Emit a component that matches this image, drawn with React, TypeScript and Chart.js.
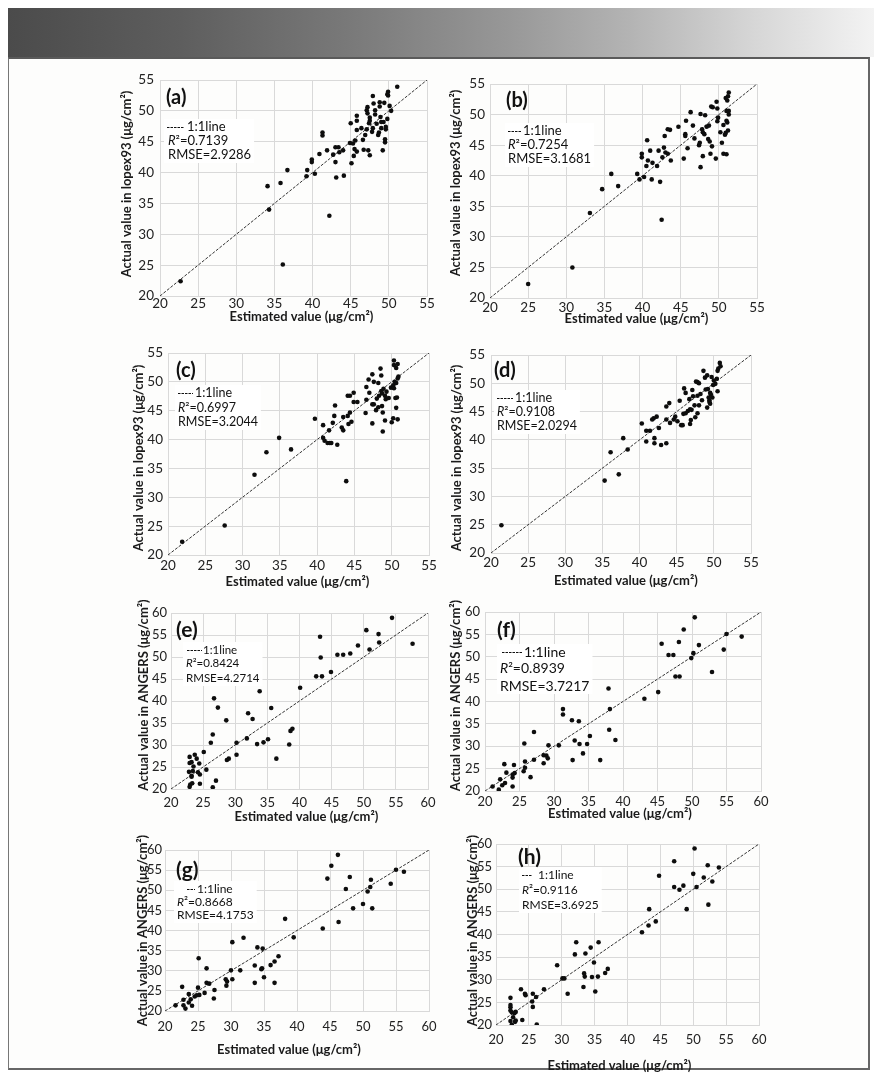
import React, { useEffect, useRef } from "react";
import { Chart, registerables } from "chart.js";

Chart.register(...registerables);

const FONT = "Lato, 'Open Sans', sans-serif";

// ---------- tick labels ----------
const lopexTicks = [20, 25, 30, 35, 40, 45, 50, 55];
const angersTicks = [20, 25, 30, 35, 40, 45, 50, 55, 60];

// ---------- texts ----------
const panelLabels = ["(a)", "(b)", "(c)", "(d)", "(e)", "(f)", "(g)", "(h)"];
const r2Values = ["0.7139", "0.7254", "0.6997", "0.9108", "0.8424", "0.8939", "0.8668", "0.9116"];
const rmseValues = ["2.9286", "3.1681", "3.2044", "2.0294", "4.2714", "3.7217", "4.1753", "3.6925"];
const xTitle = "Estimated value (μg/cm²)";
const yTitleLopex = "Actual value in lopex93 (μg/cm²)";
const yTitleAngers = "Actual value in ANGERS (μg/cm²)";
const lineLabel = "1:1line";

// ---------- (a) ----------
const aEst = [22.7, 34.1, 34.3, 35.8, 36.7, 36.1, 39.2, 39.3, 39.9, 39.9, 40.3, 40.9, 41.3, 41.3, 41.9, 42.2, 42.7, 43.0, 43.1, 43.0, 43.4, 43.5, 44.0, 44.1, 45.0, 45.1, 44.9, 45.3, 45.4, 45.5, 45.6, 45.8, 45.8, 45.8, 45.8, 46.4, 46.6, 46.7, 46.9, 47.1, 47.1, 47.2, 47.2, 47.3, 47.5, 47.4, 47.5, 47.5, 47.9, 47.8, 47.9, 48.0, 48.2, 48.2, 48.4, 48.6, 48.7, 48.8, 48.8, 48.9, 49.0, 49.0, 49.2, 49.4, 49.3, 49.5, 49.5, 49.6, 49.8, 49.8, 49.9, 49.9, 50.1, 50.3, 51.1, 49.6];
const aAct = [22.4, 37.8, 34.0, 38.3, 40.4, 25.1, 39.4, 40.4, 41.7, 42.1, 39.8, 43.0, 46.0, 46.5, 43.6, 33.0, 42.9, 41.7, 39.2, 44.1, 44.1, 43.3, 43.6, 39.5, 48.0, 41.5, 44.8, 44.7, 42.7, 43.8, 45.2, 43.4, 46.9, 48.4, 49.2, 47.2, 45.3, 43.7, 46.1, 47.0, 50.1, 50.6, 49.6, 43.6, 42.8, 48.0, 48.4, 48.9, 47.2, 46.6, 52.4, 51.2, 50.1, 49.4, 47.9, 46.1, 46.5, 50.7, 51.4, 49.0, 48.2, 47.2, 43.6, 51.3, 48.2, 45.4, 44.9, 47.0, 48.7, 52.7, 53.1, 52.5, 50.8, 50.0, 53.9, 47.4];

// ---------- (b) ----------
const bEst = [25.0, 30.8, 33.1, 34.7, 35.9, 36.8, 39.3, 39.6, 39.9, 39.9, 40.2, 40.5, 40.6, 40.7, 41.0, 41.2, 41.3, 41.9, 42.1, 42.3, 42.5, 42.6, 42.8, 42.9, 43.0, 43.3, 43.3, 43.6, 43.7, 44.7, 45.4, 45.6, 45.6, 45.7, 45.9, 46.3, 46.6, 46.8, 47.4, 47.5, 47.6, 47.6, 47.8, 47.9, 47.9, 48.1, 48.2, 48.4, 48.6, 48.7, 48.8, 48.9, 49.0, 49.1, 49.2, 49.6, 49.7, 49.8, 49.8, 49.9, 50.2, 50.4, 50.6, 50.6, 50.8, 50.9, 50.9, 51.0, 51.0, 51.0, 51.1, 51.1, 51.2, 51.2, 51.3, 51.3, 51.3];
const bAct = [22.3, 25.0, 33.9, 37.8, 40.3, 38.3, 40.3, 39.4, 43.6, 43.0, 39.8, 41.6, 45.8, 42.5, 44.1, 39.4, 42.1, 41.6, 44.1, 39.0, 32.8, 43.0, 44.6, 46.5, 43.8, 43.6, 47.6, 47.5, 42.5, 48.0, 42.8, 46.8, 46.5, 49.0, 44.5, 50.4, 48.2, 46.1, 45.0, 45.4, 41.4, 50.1, 47.6, 47.1, 43.2, 46.8, 49.9, 48.0, 46.0, 48.2, 45.6, 43.6, 51.3, 44.8, 51.2, 42.8, 52.1, 48.9, 51.0, 49.5, 47.1, 45.4, 48.3, 43.6, 46.7, 47.0, 52.7, 49.0, 50.6, 43.5, 48.7, 52.3, 53.0, 47.4, 50.0, 50.6, 53.6];

// ---------- (c) ----------
const cEst = [21.9, 27.6, 31.6, 33.2, 34.9, 36.5, 39.7, 40.8, 40.8, 41.0, 41.4, 41.7, 41.6, 41.9, 42.1, 42.3, 42.4, 42.7, 43.3, 43.5, 43.5, 43.9, 44.1, 44.2, 44.1, 44.4, 44.4, 44.6, 44.9, 44.9, 45.4, 46.5, 46.6, 46.6, 46.9, 47.0, 47.4, 47.4, 47.4, 47.6, 47.6, 47.9, 48.0, 48.2, 48.3, 48.2, 48.5, 48.6, 48.6, 48.7, 48.7, 48.8, 48.8, 48.9, 49.1, 49.1, 49.2, 49.3, 49.6, 49.9, 50.0, 50.2, 50.2, 50.3, 50.3, 50.3, 50.4, 50.5, 50.6, 50.6, 50.7, 50.6, 50.8, 50.8, 50.8, 50.9];
const cAct = [22.3, 25.1, 33.9, 37.8, 40.3, 38.3, 43.6, 42.5, 40.3, 39.8, 39.4, 39.4, 41.6, 39.4, 42.9, 44.1, 45.9, 39.1, 42.1, 41.6, 43.9, 32.8, 44.1, 42.7, 47.6, 47.6, 44.7, 43.1, 48.1, 46.5, 46.5, 44.6, 46.9, 49.1, 50.4, 48.1, 42.8, 46.1, 51.3, 50.0, 46.1, 45.1, 47.1, 49.8, 47.6, 45.6, 52.3, 51.1, 48.4, 48.0, 45.8, 44.7, 41.4, 48.8, 47.6, 43.3, 47.0, 48.3, 47.2, 49.0, 43.0, 43.7, 49.4, 52.9, 53.7, 48.9, 50.0, 47.2, 45.5, 49.8, 47.3, 52.4, 53.1, 43.5, 50.6, 50.9];

// ---------- (d) ----------
const dEst = [21.4, 35.3, 36.1, 37.2, 37.8, 38.4, 40.3, 40.9, 40.9, 41.4, 41.7, 41.9, 42.0, 42.0, 42.3, 42.6, 42.9, 43.6, 43.6, 43.6, 44.0, 44.1, 44.6, 44.8, 45.1, 45.4, 45.6, 45.8, 45.9, 46.0, 46.2, 46.2, 46.5, 46.7, 46.8, 46.8, 46.9, 47.0, 47.2, 47.1, 47.4, 47.5, 47.6, 47.8, 47.8, 47.8, 48.0, 48.0, 48.2, 48.4, 48.6, 48.8, 48.9, 49.1, 49.1, 49.2, 49.3, 49.4, 49.4, 49.5, 49.5, 49.6, 49.7, 49.8, 49.9, 50.0, 50.2, 50.4, 50.5, 50.5, 50.6, 50.8, 50.9];
const dAct = [24.9, 32.8, 37.8, 33.9, 40.3, 38.3, 42.9, 41.6, 39.7, 41.6, 43.6, 43.8, 40.3, 39.4, 44.1, 42.1, 39.1, 39.4, 43.6, 45.9, 46.5, 43.0, 43.6, 44.1, 43.3, 46.9, 42.6, 42.6, 44.6, 49.1, 44.7, 48.3, 45.1, 47.2, 42.8, 45.4, 43.5, 45.3, 47.7, 48.8, 46.1, 44.0, 50.3, 44.7, 47.8, 50.2, 46.1, 50.0, 48.1, 47.0, 52.2, 51.0, 48.9, 45.7, 51.4, 49.0, 47.5, 47.0, 46.7, 46.4, 48.3, 48.0, 51.1, 47.5, 49.7, 50.5, 49.9, 50.8, 48.6, 52.2, 52.6, 53.6, 53.0];

// ---------- (e) ----------
const eEst = [22.9, 22.9, 22.8, 22.9, 23.0, 23.2, 23.2, 23.3, 23.4, 23.5, 23.7, 23.2, 24.0, 24.2, 24.4, 24.5, 24.5, 25.1, 25.5, 26.2, 26.5, 26.5, 26.7, 27.0, 27.3, 28.6, 28.7, 29.0, 30.2, 30.2, 31.8, 32.0, 32.7, 33.4, 33.8, 34.4, 35.1, 35.6, 36.4, 38.4, 38.6, 38.9, 40.1, 42.6, 43.2, 43.3, 43.5, 44.9, 45.9, 46.8, 47.9, 49.1, 50.4, 50.9, 52.3, 52.4, 54.4, 57.6];
const eAct = [27.3, 25.9, 23.9, 20.5, 21.0, 22.8, 26.1, 21.3, 24.1, 25.1, 27.8, 23.0, 26.9, 23.8, 25.8, 23.3, 21.2, 28.4, 24.4, 30.5, 32.4, 20.4, 40.6, 21.9, 38.5, 35.6, 26.6, 26.9, 30.5, 27.8, 31.5, 37.2, 35.9, 30.2, 42.2, 30.6, 31.3, 38.4, 26.9, 30.1, 33.2, 33.7, 43.0, 45.6, 54.6, 49.9, 45.6, 46.6, 50.5, 50.5, 50.8, 52.6, 56.1, 51.7, 55.2, 53.3, 58.9, 53.0];

// ---------- (f) ----------
const fEst = [21.1, 22.0, 22.2, 22.5, 22.8, 22.9, 23.1, 24.0, 24.0, 24.0, 24.2, 24.3, 25.7, 25.6, 25.8, 25.8, 26.6, 27.1, 27.1, 28.5, 28.5, 28.9, 29.1, 29.2, 30.7, 31.3, 31.3, 32.6, 32.7, 33.0, 33.6, 33.7, 34.2, 34.8, 35.2, 36.7, 37.9, 38.0, 38.1, 38.9, 43.1, 45.1, 45.6, 46.6, 47.3, 47.6, 48.1, 48.2, 48.8, 49.9, 50.2, 50.4, 51.0, 52.9, 54.6, 55.0, 57.2];
const fAct = [21.0, 20.3, 22.6, 21.3, 26.0, 21.8, 24.1, 21.0, 23.0, 23.7, 25.8, 24.0, 30.6, 24.4, 25.2, 26.6, 23.1, 33.2, 27.0, 26.2, 28.0, 27.9, 27.3, 30.2, 30.2, 37.1, 38.3, 35.8, 26.9, 31.3, 35.6, 30.5, 28.4, 30.5, 32.3, 26.9, 42.9, 33.7, 38.3, 31.4, 40.6, 42.1, 52.9, 50.4, 50.4, 45.6, 53.3, 45.6, 56.1, 49.7, 50.8, 58.8, 52.6, 46.6, 51.6, 55.1, 54.5];

// ---------- (g) ----------
const gEst = [21.6, 22.6, 22.8, 22.8, 23.1, 23.6, 23.6, 23.9, 24.1, 24.5, 24.8, 25.0, 25.1, 25.2, 26.0, 26.3, 26.3, 26.7, 27.5, 27.4, 29.2, 29.3, 29.4, 30.0, 30.2, 30.2, 31.4, 31.9, 33.6, 33.6, 34.0, 34.6, 34.7, 34.8, 35.0, 36.0, 36.6, 36.6, 37.2, 38.2, 39.5, 43.9, 44.6, 45.2, 46.2, 46.3, 47.4, 48.0, 48.5, 50.0, 50.7, 51.1, 51.2, 51.4, 54.2, 55.0, 56.2];
const gAct = [21.4, 26.0, 21.4, 22.8, 20.6, 24.2, 22.1, 22.9, 21.3, 23.6, 23.9, 25.8, 33.1, 24.0, 24.5, 30.6, 27.0, 26.8, 25.2, 23.1, 27.9, 26.3, 27.3, 30.1, 27.9, 37.1, 30.1, 38.2, 31.3, 27.0, 35.8, 30.4, 30.6, 35.5, 28.4, 31.4, 32.3, 27.0, 33.6, 42.9, 38.3, 40.5, 52.9, 56.1, 58.8, 42.1, 50.3, 53.3, 45.5, 46.6, 49.7, 50.8, 52.6, 45.5, 51.6, 55.1, 54.6];

// ---------- (h) ----------
const hEst = [22.2, 22.2, 22.2, 22.2, 22.2, 22.4, 22.4, 22.6, 22.8, 22.9, 23.0, 23.0, 23.8, 24.0, 24.4, 24.5, 25.5, 25.6, 25.6, 26.1, 26.2, 27.3, 29.3, 30.1, 30.4, 30.9, 32.0, 32.2, 33.3, 33.4, 33.5, 33.6, 34.4, 34.6, 34.9, 35.1, 35.5, 35.6, 36.6, 37.0, 42.2, 43.2, 43.3, 44.3, 44.8, 47.1, 47.1, 47.9, 48.5, 49.0, 50.0, 50.2, 50.5, 51.6, 52.2, 52.3, 52.9, 53.9];
const hAct = [26.0, 24.4, 23.9, 23.2, 20.9, 22.8, 20.1, 21.7, 22.6, 20.7, 22.9, 21.0, 27.9, 21.1, 26.9, 26.6, 25.2, 26.9, 24.0, 26.2, 20.1, 27.9, 33.2, 30.3, 30.3, 26.9, 35.6, 38.3, 28.4, 31.4, 30.7, 35.8, 37.1, 30.6, 33.8, 27.4, 30.7, 38.3, 31.5, 32.4, 40.5, 42.0, 45.6, 42.9, 53.0, 56.2, 50.5, 49.9, 50.8, 45.6, 53.4, 59.0, 50.5, 52.6, 55.3, 46.6, 51.7, 54.8];

// ---------- layout (positions only, page pixels) ----------
type Lay = {
  L: number; T: number; R: number; B: number;
  xPad: number; yPad: number; tfs: number;
  xtDx: number; xtDy: number; ytDx: number; ytDy: number;
  letter: [number, number]; lfs: number;
  dash: [number, number]; legY: number; legTextX: number;
  r2: [number, number]; rmse: [number, number]; afs: number;
};

const layouts: Lay[] = [
  { L: 160, T: 80, R: 427, B: 296, xPad: 0, yPad: 6, tfs: 13.5, xtDx: 8, xtDy: 21, ytDx: -33, ytDy: -4, letter: [166, 98], lfs: 20, dash: [167, 184], legY: 127, legTextX: 187, r2: [168, 141], rmse: [168, 155], afs: 13 },
  { L: 490, T: 84, R: 757, B: 298, xPad: 2, yPad: 5, tfs: 13.5, xtDx: 13, xtDy: 21, ytDx: -34, ytDy: -8, letter: [506, 101], lfs: 20, dash: [508, 522], legY: 131, legTextX: 523, r2: [508, 145], rmse: [508, 159], afs: 13 },
  { L: 168, T: 353, R: 429, B: 555, xPad: 3, yPad: 5, tfs: 13.5, xtDx: -1, xtDy: 27, ytDx: -29, ytDy: 4, letter: [176, 371], lfs: 20, dash: [178, 193], legY: 393, legTextX: 195, r2: [178, 408], rmse: [178, 422], afs: 12.5 },
  { L: 491, T: 355, R: 751, B: 553, xPad: 2, yPad: 6, tfs: 13.5, xtDx: 5, xtDy: 28, ytDx: -34, ytDy: 4, letter: [494, 371], lfs: 20, dash: [497, 513], legY: 398, legTextX: 515, r2: [497, 412], rmse: [497, 426], afs: 12.5 },
  { L: 171, T: 613, R: 428, B: 789, xPad: 6, yPad: 4, tfs: 13, xtDx: 7, xtDy: 28, ytDx: -27, ytDy: -6, letter: [176, 630], lfs: 21, dash: [187, 202], legY: 650, legTextX: 203, r2: [186, 663], rmse: [186, 678], afs: 11.5 },
  { L: 485, T: 612, R: 761, B: 791, xPad: 3, yPad: 5, tfs: 13, xtDx: -3, xtDy: 23, ytDx: -29, ytDy: -6, letter: [497, 630], lfs: 21, dash: [502, 522], legY: 652, legTextX: 524, r2: [500, 668], rmse: [500, 686], afs: 14 },
  { L: 165, T: 850, R: 429, B: 1011, xPad: 8, yPad: 3, tfs: 13, xtDx: -8, xtDy: 39, ytDx: -22, ytDy: 0, letter: [176, 870], lfs: 21, dash: [187, 195], legY: 889, legTextX: 197, r2: [177, 902], rmse: [177, 915], afs: 12 },
  { L: 496, T: 844, R: 759, B: 1025, xPad: 7, yPad: 4, tfs: 13, xtDx: -8, xtDy: 41, ytDx: -23, ytDy: -4, letter: [518, 857], lfs: 21, dash: [522, 532], legY: 875, legTextX: 538, r2: [522, 890], rmse: [522, 905], afs: 12 },
];

const panelX = [aEst, bEst, cEst, dEst, eEst, fEst, gEst, hEst];
const panelY = [aAct, bAct, cAct, dAct, eAct, fAct, gAct, hAct];
const panelTicks = [lopexTicks, lopexTicks, lopexTicks, lopexTicks, angersTicks, angersTicks, angersTicks, angersTicks];
const panelYTitle = [yTitleLopex, yTitleLopex, yTitleLopex, yTitleLopex, yTitleAngers, yTitleAngers, yTitleAngers, yTitleAngers];

const W_AXIS = 50;
const PAD_TOP = 30;
const PAD_RIGHT = 16;
const H_AXIS = 52;

const textPlugin = {
  id: "panelText",
  beforeDatasetsDraw(chart: any, _a: any, o: any) {
    const ctx = chart.ctx;
    const ox = o.ox, oy = o.oy, lay: Lay = o.lay;
    ctx.save();
    ctx.font = `${lay.afs}px ${FONT}`;
    const w1 = lay.legTextX + ctx.measureText(lineLabel).width;
    const w2 = lay.rmse[0] + ctx.measureText("RMSE=" + o.rmse).width;
    const right = Math.max(w1, w2) + 3;
    const left = Math.min(lay.dash[0], lay.r2[0]) - 3;
    ctx.fillStyle = "#ffffff";
    ctx.fillRect(left - ox, lay.legY - 8 - oy, right - left, lay.rmse[1] + 8 - (lay.legY - 8));
    ctx.restore();
  },
  afterDatasetsDraw(chart: any, _a: any, o: any) {
    const ctx = chart.ctx;
    const ox = o.ox, oy = o.oy, lay: Lay = o.lay;
    const ca = chart.chartArea;
    ctx.save();
    ctx.fillStyle = "#111";
    ctx.textBaseline = "middle";
    ctx.textAlign = "left";
    // panel letter
    ctx.font = `bold ${lay.lfs}px ${FONT}`;
    ctx.fillText(o.label, lay.letter[0] - ox, lay.letter[1] - oy);
    // legend dash
    ctx.strokeStyle = "#111";
    ctx.lineWidth = 1;
    ctx.setLineDash([2.5, 1]);
    ctx.beginPath();
    ctx.moveTo(lay.dash[0] - ox, lay.legY - oy + 0.5);
    ctx.lineTo(lay.dash[1] - ox, lay.legY - oy + 0.5);
    ctx.stroke();
    ctx.setLineDash([]);
    ctx.font = `${lay.afs}px ${FONT}`;
    ctx.fillText(lineLabel, lay.legTextX - ox, lay.legY - oy);
    // R2
    ctx.font = `italic ${lay.afs}px ${FONT}`;
    const rx = lay.r2[0] - ox, ry = lay.r2[1] - oy;
    ctx.fillText("R", rx, ry);
    const rw = ctx.measureText("R").width;
    ctx.font = `${lay.afs}px ${FONT}`;
    ctx.fillText("²=" + o.r2, rx + rw, ry);
    ctx.fillText("RMSE=" + o.rmse, lay.rmse[0] - ox, lay.rmse[1] - oy);
    // axis titles
    ctx.font = `bold 13px ${FONT}`;
    ctx.textAlign = "center";
    ctx.fillStyle = "#1a1a1a";
    const cx = (ca.left + ca.right) / 2 + lay.xtDx;
    ctx.fillText(xTitle, cx, ca.bottom + lay.xtDy);
    ctx.translate(ca.left + lay.ytDx, (ca.top + ca.bottom) / 2 + lay.ytDy);
    ctx.rotate(-Math.PI / 2);
    ctx.fillText(o.yTitle, 0, 0);
    ctx.restore();
  },
};

function Panel({ idx }: { idx: number }) {
  const ref = useRef<HTMLCanvasElement>(null);
  const lay = layouts[idx];
  const ox = lay.L - W_AXIS;
  const oy = lay.T - PAD_TOP;
  const cw = lay.R - lay.L + W_AXIS + PAD_RIGHT;
  const chh = lay.B - lay.T + PAD_TOP + H_AXIS;

  useEffect(() => {
    const ticks = panelTicks[idx];
    const lo = ticks[0];
    const hi = ticks[ticks.length - 1];
    const xs = panelX[idx];
    const ys = panelY[idx];
    const pts = xs.map((x, i) => ({ x, y: ys[i] }));
    const tickFont = { family: FONT, size: lay.tfs };
    const chart = new Chart(ref.current as HTMLCanvasElement, {
      type: "scatter",
      data: {
        datasets: [
          {
            data: pts,
            pointRadius: 2.3,
            pointBackgroundColor: "#0d0d0d",
            pointBorderWidth: 0,
            pointBorderColor: "#0d0d0d",
            showLine: false,
          } as any,
          {
            type: "line",
            data: [
              { x: lo, y: lo },
              { x: hi, y: hi },
            ],
            borderColor: "#333",
            borderWidth: 1,
            borderDash: [3, 1.5],
            pointRadius: 0,
            fill: false,
          } as any,
        ],
      },
      options: {
        responsive: false,
        animation: false,
        events: [],
        layout: { padding: { top: PAD_TOP, right: PAD_RIGHT, left: 0, bottom: 0 } },
        plugins: {
          legend: { display: false },
          tooltip: { enabled: false },
          panelText: {
            ox,
            oy,
            lay,
            label: panelLabels[idx],
            r2: r2Values[idx],
            rmse: rmseValues[idx],
            yTitle: panelYTitle[idx],
          },
        } as any,
        scales: {
          x: {
            type: "linear",
            min: lo,
            max: hi,
            afterBuildTicks: (s: any) => {
              s.ticks = ticks.map((v) => ({ value: v }));
            },
            afterFit: (s: any) => {
              s.height = H_AXIS;
            },
            ticks: { font: tickFont, color: "#222", padding: lay.xPad, maxRotation: 0, autoSkip: false },
            grid: { color: "#d9d9d9", lineWidth: 1, drawTicks: false },
            border: { color: "#d9d9d9" },
          },
          y: {
            type: "linear",
            min: lo,
            max: hi,
            afterBuildTicks: (s: any) => {
              s.ticks = ticks.map((v) => ({ value: v }));
            },
            afterFit: (s: any) => {
              s.width = W_AXIS;
            },
            ticks: { font: tickFont, color: "#222", padding: lay.yPad, autoSkip: false },
            grid: { color: "#d9d9d9", lineWidth: 1, drawTicks: false },
            border: { color: "#d9d9d9" },
          },
        },
      },
      plugins: [textPlugin as any],
    });
    return () => chart.destroy();
  }, []);

  return (
    <canvas
      ref={ref}
      width={cw}
      height={chh}
      style={{ position: "absolute", left: ox, top: oy, width: cw, height: chh }}
    />
  );
}

export default function App() {
  return (
    <div style={{ position: "absolute", left: 0, top: 0, width: 882, height: 1082, background: "#ffffff", overflow: "hidden" }}>
      <div
        style={{
          position: "absolute",
          left: 8,
          top: 8,
          width: 866,
          height: 49,
          background: "linear-gradient(to right, #4b4b4b 0%, #5e5e5e 20%, #7a7a7a 40%, #989898 58%, #b4b4b4 72%, #d6d6d6 86%, #f3f3f3 100%)",
        }}
      />
      <div
        style={{
          position: "absolute",
          left: 8,
          top: 57,
          width: 862,
          height: 1013,
          boxSizing: "border-box",
          borderLeft: "1.5px solid #777",
          borderRight: "2px solid #666",
          borderBottom: "2px solid #666",
          borderTop: "2px solid #5a5a5a",
          background: "#fdfdfc",
        }}
      />
      {layouts.map((_, i) => (
        <Panel key={i} idx={i} />
      ))}
    </div>
  );
}
